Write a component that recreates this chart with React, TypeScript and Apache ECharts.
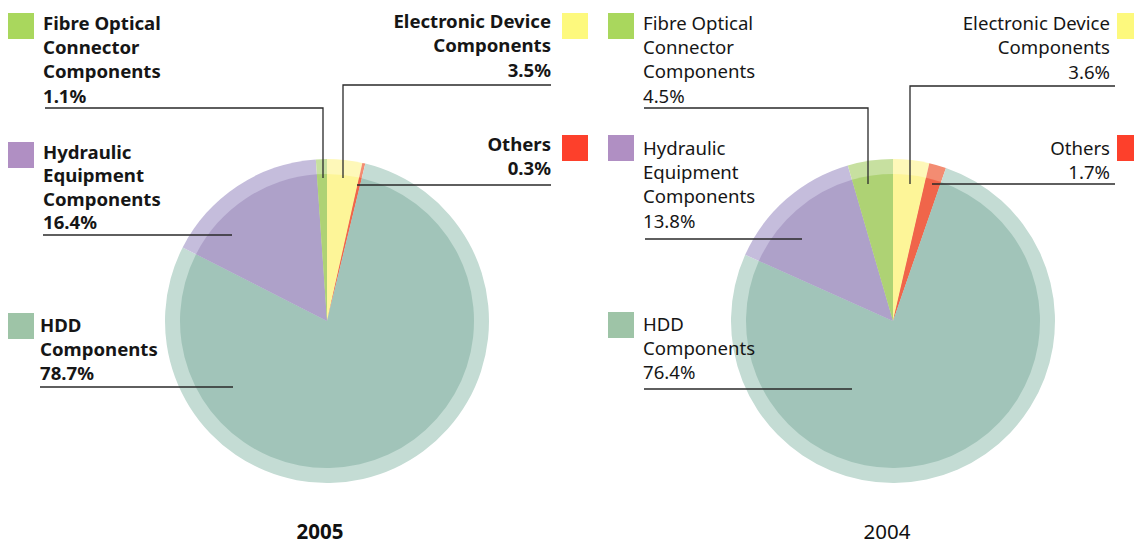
import React, { useEffect, useRef } from "react";
import * as echarts from "echarts";

// ---- data ----
const categories = [
  "Electronic Device Components",
  "Others",
  "HDD Components",
  "Hydraulic Equipment Components",
  "Fibre Optical Connector Components",
];
const labelLines = [
  ["Electronic Device", "Components"],
  ["Others"],
  ["HDD", "Components"],
  ["Hydraulic", "Equipment", "Components"],
  ["Fibre Optical", "Connector", "Components"],
];
const years = ["2005", "2004"];
const values2005 = [3.5, 0.3, 78.7, 16.4, 1.1];
const values2004 = [3.6, 1.7, 76.4, 13.8, 4.5];

// ---- styles ----
const innerColors = ["#fdf598", "#f0654a", "#a1c4b9", "#aea1c9", "#aed274"];
const ringColors = ["#fef8b9", "#f38c72", "#c4dcd4", "#c5bddc", "#c7e0a0"];
const squareColors = ["#fdf97d", "#fd402b", "#9ec4a7", "#b08fc3", "#a9d75d"];
const FONT = '"Noto Sans", "Open Sans", sans-serif';

type Label = { x: number; y: number; lh: number; align: "left" | "right"; sx: number; sy: number; line: number[][] };
type Layout = { center: [number, number]; bold: boolean; titleX: number; labels: Label[] };

const layouts: Layout[] = [
  {
    center: [327, 321],
    bold: true,
    titleX: 320,
    labels: [
      { x: 551, y: 8, lh: 24.5, align: "right", sx: 562, sy: 13, line: [[343, 178], [343, 85], [551, 85]] },
      { x: 551, y: 131, lh: 24, align: "right", sx: 562, sy: 135, line: [[357, 185], [551, 185]] },
      { x: 40, y: 312, lh: 24, align: "left", sx: 8, sy: 313, line: [[40, 387], [233, 387]] },
      { x: 43, y: 140, lh: 23.2, align: "left", sx: 8, sy: 142, line: [[43, 235], [232, 235]] },
      { x: 43, y: 10, lh: 24.3, align: "left", sx: 8, sy: 13, line: [[45, 108], [323, 108], [323, 178]] },
    ],
  },
  {
    center: [893, 321],
    bold: false,
    titleX: 887,
    labels: [
      { x: 1110, y: 10, lh: 24.5, align: "right", sx: 1117, sy: 13, line: [[910, 184], [910, 86], [1115, 86]] },
      { x: 1110, y: 135, lh: 24.3, align: "right", sx: 1117, sy: 135, line: [[932, 184], [1115, 184]] },
      { x: 643, y: 311, lh: 24.3, align: "left", sx: 608, sy: 312, line: [[644, 389], [852, 389]] },
      { x: 643, y: 135, lh: 24.3, align: "left", sx: 608, sy: 135, line: [[645, 239], [802, 239]] },
      { x: 643, y: 10, lh: 24.3, align: "left", sx: 608, sy: 13, line: [[644, 108], [868, 108], [868, 184]] },
    ],
  },
];

const allValues = [values2005, values2004];

export default function App() {
  const ref = useRef<HTMLDivElement>(null);
  useEffect(() => {
    document.body.style.margin = "0";
    if (!ref.current) return;
    const chart = echarts.init(ref.current, null, { renderer: "svg" });

    const series: any[] = [];
    const graphic: any[] = [];

    layouts.forEach((lay, ci) => {
      const vals = allValues[ci];
      series.push({
        type: "pie",
        center: lay.center,
        radius: [0, 162],
        startAngle: 90,
        clockwise: true,
        silent: true,
        label: { show: false },
        labelLine: { show: false },
        itemStyle: { borderWidth: 0 },
        data: categories.map((c, i) => ({ name: c, value: vals[i], itemStyle: { color: ringColors[i] } })),
        z: 1,
      });
      series.push({
        type: "pie",
        center: lay.center,
        radius: [0, 147],
        startAngle: 90,
        clockwise: true,
        silent: true,
        label: { show: false },
        labelLine: { show: false },
        itemStyle: { borderWidth: 0 },
        data: categories.map((c, i) => ({ name: c, value: vals[i], itemStyle: { color: innerColors[i] } })),
        z: 2,
      });

      const weight = lay.bold ? "bold" : "normal";
      lay.labels.forEach((lb, i) => {
        const text = [...labelLines[i], vals[i].toFixed(1) + "%"].join("\n");
        graphic.push({
          type: "text",
          x: lb.x,
          y: lb.y,
          z: 10,
          style: {
            text,
            fill: "#161616",
            font: `${weight} 18.6px ${FONT}`,
            lineHeight: lb.lh,
            align: lb.align,
            verticalAlign: "top",
          },
        });
        graphic.push({
          type: "rect",
          shape: { x: lb.sx, y: lb.sy, width: 26, height: 26 },
          style: { fill: squareColors[i] },
          z: 10,
        });
        graphic.push({
          type: "polyline",
          shape: { points: lb.line },
          style: { stroke: "#2a2a2a", lineWidth: 1.3, fill: null },
          z: 10,
        });
      });

      graphic.push({
        type: "text",
        x: lay.titleX,
        y: 531,
        z: 10,
        style: {
          text: years[ci],
          fill: "#111",
          font: `${weight} 20.5px ${FONT}`,
          lineHeight: 20,
          align: "center",
          verticalAlign: "middle",
        },
      });
    });

    chart.setOption({
      animation: false,
      backgroundColor: "#ffffff",
      series,
      graphic,
    });
    return () => chart.dispose();
  }, []);
  return <div ref={ref} style={{ width: 1134, height: 544 }} />;
}
